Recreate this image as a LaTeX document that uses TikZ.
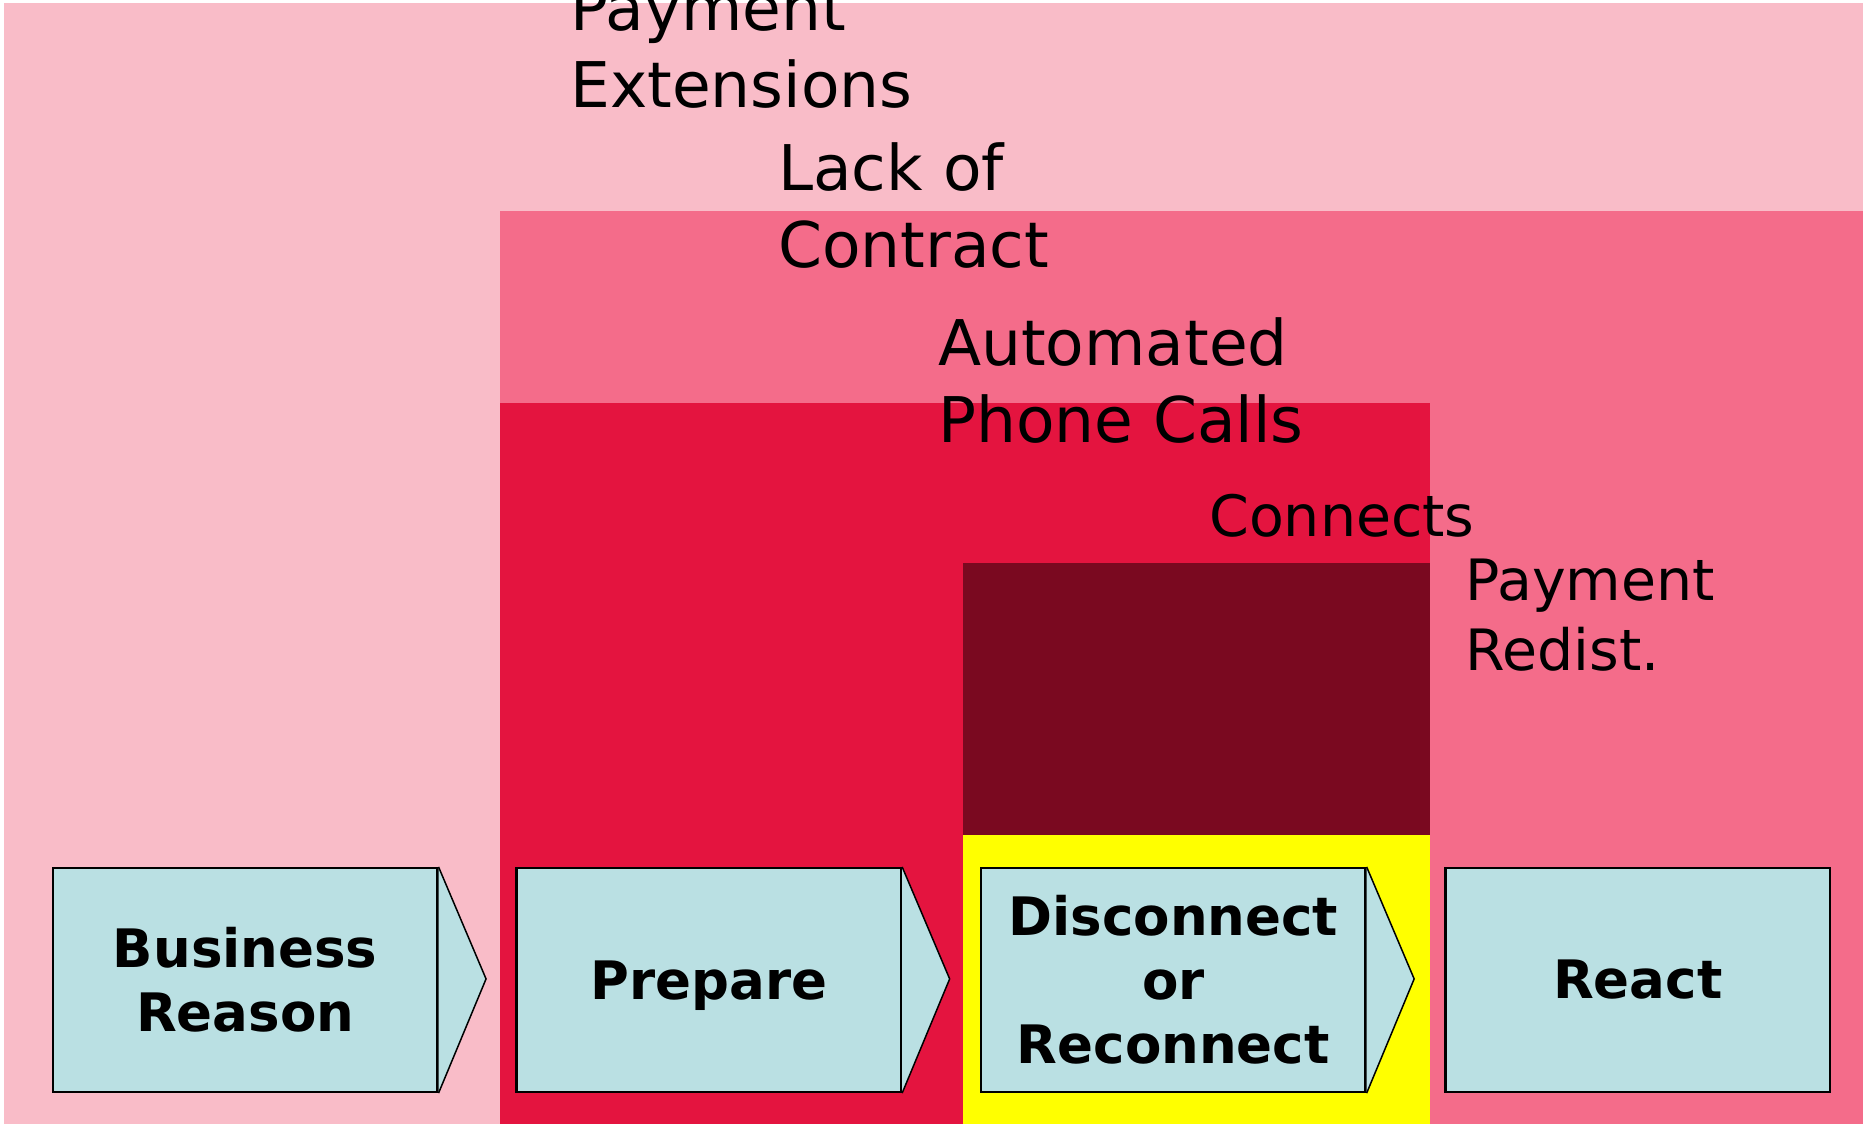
\documentclass[tikz,border=0pt]{standalone}
\usepackage{fontspec}
\setmainfont{DejaVu Sans}
\definecolor{lpink}{HTML}{F9BCC8}
\definecolor{mpink}{HTML}{F46C8A}
\definecolor{cred}{HTML}{E4143F}
\definecolor{maroonc}{HTML}{7A0920}
\definecolor{boxblue}{HTML}{BAE0E3}
\definecolor{yel}{HTML}{FFFF00}
\begin{document}
\begin{tikzpicture}[x=1pt,y=-1pt,
  stepbox/.style={draw=black,line width=2.2pt,fill=boxblue,minimum width=384.5pt,minimum height=224pt,inner sep=0pt,align=center,font=\fontsize{53}{64}\selectfont\bfseries},
  chev/.style={draw=black,line width=1.5pt,fill=boxblue,line join=miter},
  biglbl/.style={anchor=base west,inner sep=0pt,align=left,font=\fontsize{63}{77}\selectfont},
  smalllbl/.style={anchor=base west,inner sep=0pt,align=left,font=\fontsize{57}{70}\selectfont}]
\useasboundingbox (0,0) rectangle (1863,1124);
\begin{scope}
\clip (0,0) rectangle (1863,1124);
\fill[white] (0,0) rectangle (1863,1124);
\fill[lpink] (3.5,3) rectangle (1863,1124);
\fill[mpink] (500,211) rectangle (1863,1124);
\fill[cred] (500,403) rectangle (1430,1124);
\fill[maroonc] (963,563) rectangle (1430,835);
\fill[yel] (963,835) rectangle (1430,1124);

\node[biglbl] (pe) at (570,107) {Payment\\Extensions};
\node[biglbl] (lc) at (778,267) {Lack of\\Contract};
\node[biglbl] (apc) at (938,442) {Automated\\Phone Calls};
\node[smalllbl] (cn) at (1209,536) {Connects};
\node[smalllbl] (pr) at (1465,670) {Payment\\Redist.};

\node[stepbox] (br) at (245.2,980) {Business\\Reason};
\node[stepbox,text depth=0pt] (pp) at (708.8,980) {Prepare};
\node[stepbox] (dr) at (1173.3,980) {Disconnect\\or\\Reconnect};
\node[stepbox] (re) at (1637.8,980) {React};
\foreach \n in {br,pp,dr}{
  \draw[chev] (\n.north east) -- ++(47.5,112) -- (\n.south east);
}
\end{scope}
\end{tikzpicture}
\end{document}
